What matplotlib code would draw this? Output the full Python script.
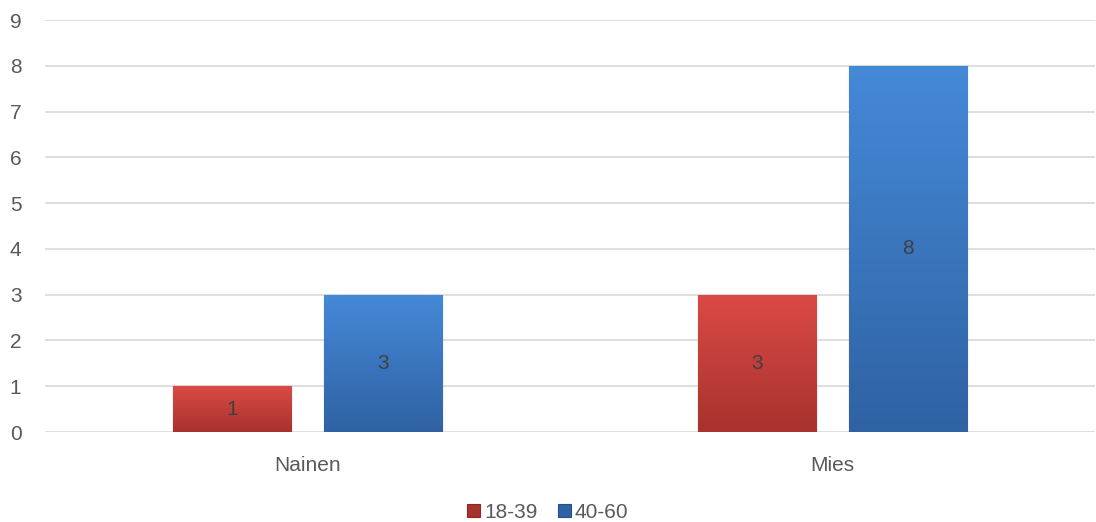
import matplotlib
matplotlib.use("Agg")
import matplotlib.pyplot as plt
import numpy as np
from matplotlib.colors import LinearSegmentedColormap

categories = ["Nainen", "Mies"]
series_names = ["18-39", "40-60"]
values_1839 = [1, 3]
values_4060 = [3, 8]
yticks = list(range(0, 10))

plt.rcParams['font.family'] = ['Liberation Sans', 'DejaVu Sans']

fig = plt.figure(figsize=(10.96, 5.22), dpi=100)
ax = fig.add_axes([45/1096, 90/522, 1050/1096, 412/522])

x = np.arange(len(categories))
w = 0.225
off = 0.143
colors = [("#DB4A45", "#A8322E", "#8B2724"), ("#4589D8", "#2F62A3", "#24508A")]

bars_all = []
for i, (vals, name) in enumerate(zip([values_1839, values_4060], series_names)):
    pos = x + (-off if i == 0 else off)
    light, dark, edge = colors[i]
    bars = ax.bar(pos, vals, width=w, color=dark, edgecolor=edge, linewidth=0.8,
                  label=name, zorder=3)
    cmap = LinearSegmentedColormap.from_list("g", [light, dark])
    for b in bars:
        x0, y0 = b.get_x(), b.get_y()
        bw, bh = b.get_width(), b.get_height()
        grad = np.linspace(0, 1, 100).reshape(-1, 1)
        im = ax.imshow(grad, extent=[x0, x0 + bw, y0, y0 + bh], aspect='auto',
                       cmap=cmap, zorder=3.5, origin='upper')
        im.set_clip_path(b)
        ax.text(b.get_x() + bw / 2, bh / 2, f"{int(bh)}", ha='center', va='center',
                fontsize=15, color='#404040', zorder=5)
    bars_all.append(bars)

ax.set_xlim(-0.5, 1.5)
ax.set_ylim(0, 9)
ax.set_yticks(yticks)
ax.set_xticks(x)
ax.set_xticklabels(categories)
ax.tick_params(axis='both', length=0, labelsize=15, labelcolor='#595959')
ax.tick_params(axis='y', pad=17)
ax.tick_params(axis='x', pad=17)
ax.grid(axis='y', color='#D9D9D9', linewidth=1.2, zorder=0)
for s in ax.spines.values():
    s.set_visible(False)

leg = fig.legend(handles=[bars_all[0], bars_all[1]], labels=series_names,
                 loc='lower center', bbox_to_anchor=(0.5, -0.035), ncol=2, frameon=False,
                 fontsize=15, handlelength=0.6, handleheight=0.6, handletextpad=0.2,
                 columnspacing=1.0, labelcolor='#595959')

fig.savefig("out.png", dpi=100)
